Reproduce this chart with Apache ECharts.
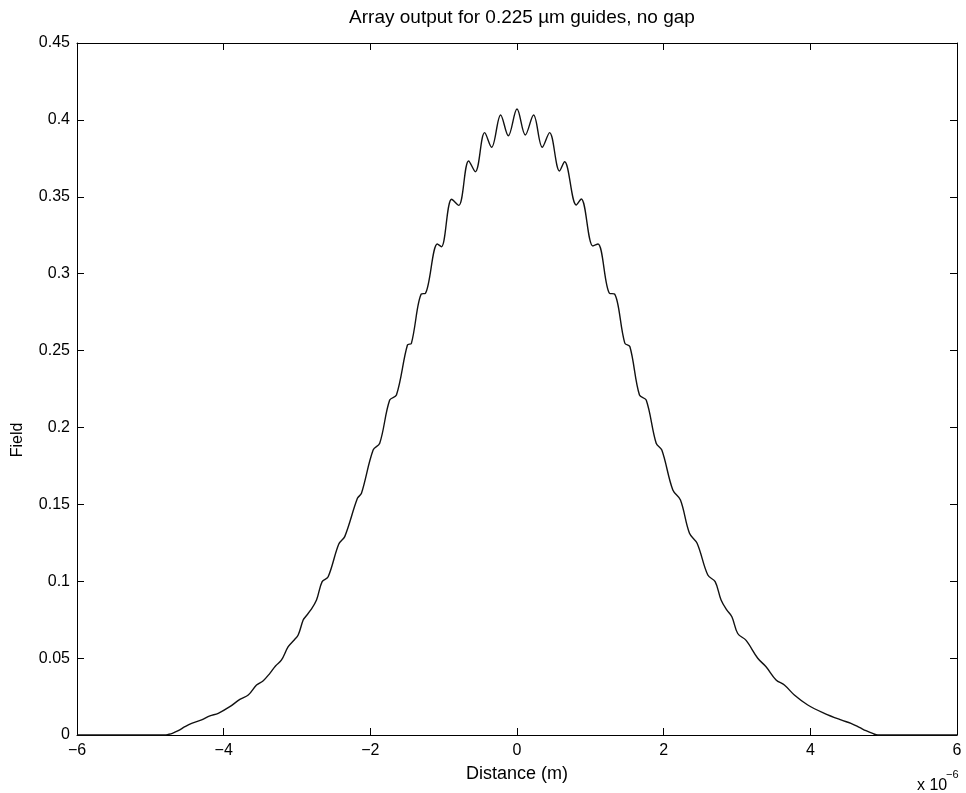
<!DOCTYPE html>
<html>
<head>
<meta charset="utf-8">
<script src="https://cdn.jsdelivr.net/npm/echarts@6/dist/echarts.min.js"></script>
<style>
html,body{margin:0;padding:0;background:#fff;}
#chart{width:966px;height:793px;}
</style>
</head>
<body>
<div id="chart"></div>
<script>
// Distance in micrometres (axis scaled by x 10^-6)
var distance = [
  -6, -4.8, -4.755, -4.70, -4.619, -4.529, -4.437, -4.301, -4.188, -4.074,
  -3.916, -3.779, -3.665, -3.552, -3.46, -3.37, -3.293, -3.211, -3.12, -3.038,
  -2.984, -2.916, -2.884, -2.812, -2.734, -2.657, -2.575, -2.43, -2.349, -2.176,
  -2.121, -1.962, -1.872, -1.736, -1.644, -1.494, -1.44, -1.304, -1.249, -1.086,
  -1.031, -0.891, -0.795, -0.659, -0.568, -0.441, -0.346, -0.223, -0.1185, 0,
  0.113, 0.226, 0.345, 0.444, 0.58, 0.649, 0.808, 0.876, 1.035, 1.104,
  1.262, 1.33, 1.47, 1.54, 1.67, 1.762, 1.898, 1.975, 2.125, 2.229,
  2.352, 2.456, 2.602, 2.702, 2.783, 2.86, 2.93, 3.01, 3.124, 3.283,
  3.396, 3.533, 3.646, 3.782, 3.965, 4.191, 4.418, 4.554, 4.668, 4.759,
  4.85, 4.92, 6
];
var field = [
  0, 0, 0.0004, 0.0011, 0.0028, 0.0054, 0.0076, 0.0098, 0.0124, 0.0141,
  0.0184, 0.0232, 0.0260, 0.0325, 0.0353, 0.0401, 0.0449, 0.0488, 0.0574, 0.0618,
  0.0650, 0.0748, 0.0769, 0.0813, 0.0878, 0.0997, 0.1029, 0.1242, 0.1290, 0.1539,
  0.1572, 0.1853, 0.1897, 0.2178, 0.2211, 0.2536, 0.2547, 0.2868, 0.2872, 0.3193,
  0.3175, 0.3484, 0.3444, 0.3733, 0.3663, 0.3917, 0.3822, 0.4032, 0.3897, 0.4071,
  0.3902, 0.4032, 0.3822, 0.3917, 0.3668, 0.3728, 0.3447, 0.3486, 0.3180, 0.3193,
  0.2872, 0.2868, 0.2548, 0.2525, 0.2211, 0.2178, 0.1897, 0.1853, 0.1593, 0.1528,
  0.1312, 0.1247, 0.1040, 0.0997, 0.0878, 0.0813, 0.0769, 0.0660, 0.0615, 0.0499,
  0.0444, 0.0358, 0.0325, 0.0260, 0.0195, 0.0141, 0.0098, 0.0076, 0.0050, 0.0028,
  0.0010, 0, 0
];
var xTickValues = [-6, -4, -2, 0, 2, 4, 6];
var yTickValues = [0, 0.05, 0.1, 0.15, 0.2, 0.25, 0.3, 0.35, 0.4, 0.45];
var titleText = 'Array output for 0.225 \u00b5m guides, no gap';
var xLabelText = 'Distance (m)';
var yLabelText = 'Field';

var points = distance.map(function (d, i) { return [d, field[i]]; });
var FONT = '"Liberation Sans", Arial, Helvetica, sans-serif';

var chart = echarts.init(document.getElementById('chart'), null, {renderer: 'canvas'});

function fmtX(v) { return String(v).replace('-', '\u2212'); }

var tickCommon = {show: true, inside: true, length: 7, lineStyle: {color: '#000', width: 1}};
var lineCommon = {show: true, onZero: false, lineStyle: {color: '#000', width: 1}};

chart.setOption({
  backgroundColor: '#fff',
  animation: false,
  title: {
    text: titleText,
    left: 517,
    top: 3,
    textAlign: 'center',
    textStyle: {fontFamily: FONT, fontSize: 19, fontWeight: 'normal', color: '#000'}
  },
  grid: {left: 77, right: 9, top: 43, bottom: 58, containLabel: false},
  xAxis: [{
    type: 'value', min: -6, max: 6, interval: 2, position: 'bottom',
    name: xLabelText, nameLocation: 'middle', nameGap: 30,
    nameTextStyle: {fontFamily: FONT, fontSize: 18, color: '#000'},
    axisLine: lineCommon, axisTick: tickCommon,
    axisLabel: {show: true, margin: 8, fontFamily: FONT, fontSize: 16, color: '#000',
      formatter: function (v) { return xTickValues.indexOf(v) >= 0 ? fmtX(v) : ''; }},
    splitLine: {show: false}
  }, {
    type: 'value', min: -6, max: 6, interval: 2, position: 'top',
    axisLine: lineCommon, axisTick: tickCommon, axisLabel: {show: false}, splitLine: {show: false}
  }],
  yAxis: [{
    type: 'value', min: 0, max: 0.45, interval: 0.05, position: 'left',
    axisLine: lineCommon, axisTick: tickCommon,
    axisLabel: {show: true, margin: 7, fontFamily: FONT, fontSize: 16, color: '#000',
      formatter: function (v) {
        var hit = yTickValues.filter(function (t) { return Math.abs(t - v) < 1e-9; });
        return hit.length ? String(+hit[0].toFixed(2)) : '';
      }},
    splitLine: {show: false}
  }, {
    type: 'value', min: 0, max: 0.45, interval: 0.05, position: 'right',
    axisLine: lineCommon, axisTick: tickCommon, axisLabel: {show: false}, splitLine: {show: false}
  }],
  graphic: [
    {type: 'text', x: 18, y: 440, rotation: Math.PI / 2,
      style: {text: yLabelText, font: '16px ' + FONT, fill: '#000', textAlign: 'center', textVerticalAlign: 'middle'}},
    {type: 'text', x: 917, y: 786,
      style: {text: 'x 10', font: '16px ' + FONT, fill: '#000', textAlign: 'left', textVerticalAlign: 'middle'}},
    {type: 'text', x: 946, y: 775,
      style: {text: '\u22126', font: '11px ' + FONT, fill: '#000', textAlign: 'left', textVerticalAlign: 'middle'}}
  ],
  series: [{
    type: 'line',
    xAxisIndex: 0, yAxisIndex: 0,
    data: points,
    showSymbol: false,
    smooth: 0.35,
    lineStyle: {color: '#111', width: 1.4},
    z: 3
  }]
});
</script>
</body>
</html>
